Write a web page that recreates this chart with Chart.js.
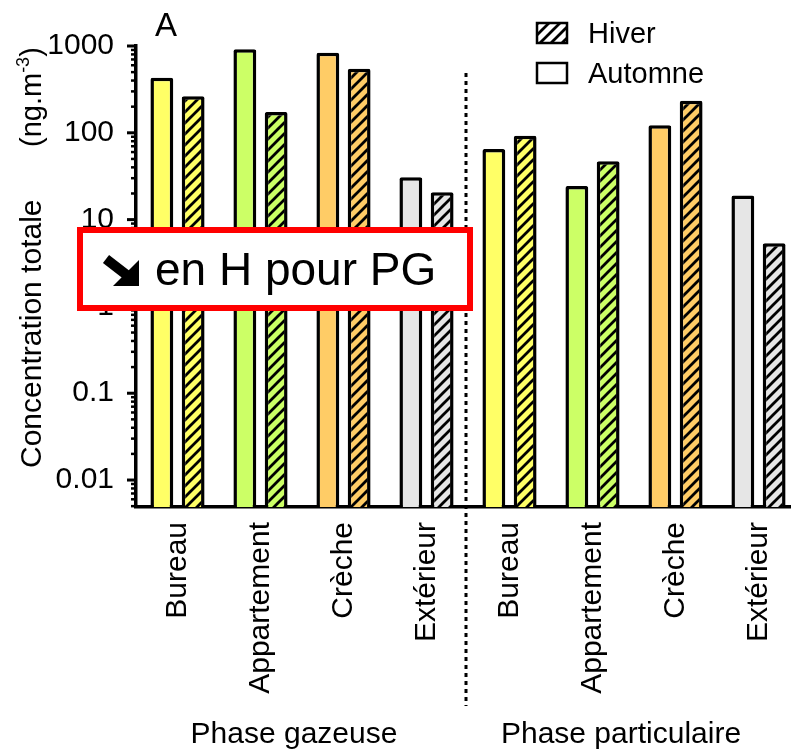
<!DOCTYPE html>
<html>
<head>
<meta charset="utf-8">
<script src="https://cdn.jsdelivr.net/npm/chart.js@4.4.1/dist/chart.umd.min.js"></script>
<style>
  html, body { margin: 0; padding: 0; background: #fff; overflow: hidden; }
  #wrap { width: 800px; height: 749px; }
</style>
</head>
<body>
<div id="wrap"><canvas id="c" width="800" height="749"></canvas></div>
<script>
// Sites and phases
const categories = ['Bureau', 'Appartement', 'Crèche', 'Extérieur'];
const phases = ['Phase gazeuse', 'Phase particulaire'];
const seasons = ['Hiver', 'Automne'];

// Total concentrations (ng.m-3)
const gasAutumn = [431, 916, 837, 30.7];
const gasWinter = [263, 174, 548, 20.6];
const particleAutumn = [65, 24.4, 122, 18.9];
const particleWinter = [92.7, 47, 234, 5.33];

// Labelled decades on the log axis
const yTickLabels = ['0.01', '0.1', '1', '10', '100', '1000'];

const siteColors = ['#FFFF66', '#CCFF66', '#FFCC66', '#E6E6E6'];
const panelLetter = 'A';
const yTitle = 'Concentration totale';
const yUnit = ['(ng.m', '-3', ')'];
const noteText = 'en H pour PG';

const FONT = '"Liberation Sans", Arial, Helvetica, sans-serif';

const labels = categories.concat(categories);
const autumnData = gasAutumn.concat(particleAutumn);
const winterData = gasWinter.concat(particleWinter);
const colors = siteColors.concat(siteColors);

// Diagonal hatching over a base colour
function hatch(color) {
  const s = 11;
  const c = document.createElement('canvas');
  c.width = s; c.height = s;
  const g = c.getContext('2d');
  g.fillStyle = color;
  g.fillRect(0, 0, s, s);
  g.strokeStyle = '#000';
  g.lineWidth = 2.8;
  g.beginPath();
  g.moveTo(-2, s + 2); g.lineTo(s + 2, -2);
  g.moveTo(-2, 2); g.lineTo(2, -2);
  g.moveTo(s - 2, s + 2); g.lineTo(s + 2, s - 2);
  g.stroke();
  return g.createPattern(c, 'repeat');
}

function tickLabel(v) {
  for (const t of yTickLabels) {
    if (Math.abs(Math.log10(v) - Math.log10(Number(t))) < 1e-6) return t;
  }
  return '';
}

const decor = {
  id: 'decor',
  afterDraw(chart) {
    const ctx = chart.ctx;
    const ys = chart.scales.y;
    const xs = chart.scales.x;
    const area = chart.chartArea;
    ctx.save();

    // major / minor tick marks of the log axis
    ctx.strokeStyle = '#000';
    for (let e = -3; e <= 3; e++) {
      for (let m = 1; m <= 9; m++) {
        const v = m * Math.pow(10, e);
        if (v < ys.min || v > ys.max * 1.0001) continue;
        const py = ys.getPixelForValue(v);
        const len = m === 1 ? 9 : 5;
        ctx.lineWidth = m === 1 ? 3 : 2.5;
        ctx.beginPath();
        ctx.moveTo(area.left - len, py);
        ctx.lineTo(area.left, py);
        ctx.stroke();
      }
    }

    // dotted separator between the two phases
    const sepX = (xs.getPixelForValue(3) + xs.getPixelForValue(4)) / 2 - 2;
    ctx.setLineDash([4, 4]);
    ctx.lineWidth = 3;
    ctx.beginPath();
    ctx.moveTo(sepX, 73);
    ctx.lineTo(sepX, 706);
    ctx.stroke();
    ctx.setLineDash([]);

    // phase labels
    ctx.fillStyle = '#000';
    ctx.font = '30px ' + FONT;
    ctx.textAlign = 'center';
    ctx.textBaseline = 'alphabetic';
    ctx.fillText(phases[0], 294, 743);
    ctx.fillText(phases[1], 621, 743);

    // panel letter
    ctx.textAlign = 'left';
    ctx.font = '33px ' + FONT;
    ctx.fillText(panelLetter, 155, 36);

    // legend
    const boxes = [{y: 23, pat: hatch('#FFFFFF')}, {y: 63, pat: '#FFFFFF'}];
    ctx.font = '29px ' + FONT;
    boxes.forEach((b, i) => {
      ctx.fillStyle = b.pat;
      ctx.fillRect(537, b.y, 30, 20);
      ctx.strokeStyle = '#000';
      ctx.lineWidth = 2.5;
      ctx.strokeRect(537, b.y, 30, 20);
      ctx.fillStyle = '#000';
      ctx.fillText(seasons[i], 588, b.y + 20);
    });

    // y axis title
    ctx.save();
    ctx.translate(41, 468);
    ctx.rotate(-Math.PI / 2);
    ctx.font = '30px ' + FONT;
    ctx.fillText(yTitle, 0, 0);
    ctx.restore();

    ctx.save();
    ctx.translate(41, 147);
    ctx.rotate(-Math.PI / 2);
    ctx.font = '29px ' + FONT;
    let w = ctx.measureText(yUnit[0]).width;
    ctx.fillText(yUnit[0], 0, 0);
    ctx.font = '18px ' + FONT;
    ctx.fillText(yUnit[1], w, -12);
    w += ctx.measureText(yUnit[1]).width;
    ctx.font = '29px ' + FONT;
    ctx.fillText(yUnit[2], w, 0);
    ctx.restore();

    // note box
    ctx.fillStyle = '#FFFFFF';
    ctx.fillRect(80, 230, 390, 78);
    ctx.strokeStyle = '#FF0000';
    ctx.lineWidth = 6;
    ctx.strokeRect(80, 230, 390, 78);

    // heavy south-east arrow
    ctx.fillStyle = '#000';
    ctx.beginPath();
    ctx.moveTo(139, 286);
    ctx.lineTo(139, 260);
    ctx.lineTo(113, 286);
    ctx.closePath();
    ctx.fill();
    ctx.strokeStyle = '#000';
    ctx.lineWidth = 10;
    ctx.beginPath();
    ctx.moveTo(106, 259);
    ctx.lineTo(128, 276);
    ctx.stroke();

    ctx.font = '46px ' + FONT;
    ctx.textAlign = 'left';
    ctx.fillText(noteText, 155, 285);

    ctx.restore();
  }
};

new Chart(document.getElementById('c'), {
  type: 'bar',
  data: {
    labels: labels,
    datasets: [
      {
        label: seasons[1],
        data: autumnData,
        backgroundColor: colors,
        borderColor: '#000',
        borderWidth: 3.5,
        borderRadius: {topLeft: 2, topRight: 2}
      },
      {
        label: seasons[0],
        data: winterData,
        backgroundColor: colors.map(hatch),
        borderColor: '#000',
        borderWidth: 3.5,
        borderRadius: {topLeft: 2, topRight: 2}
      }
    ]
  },
  options: {
    responsive: false,
    animation: false,
    devicePixelRatio: 1,
    barPercentage: 0.73,
    categoryPercentage: 0.754,
    layout: { padding: { top: 46, left: 0, right: 0, bottom: 0 } },
    plugins: {
      legend: { display: false },
      title: { display: false },
      tooltip: { enabled: false }
    },
    scales: {
      x: {
        type: 'category',
        offset: true,
        grid: { display: false, drawTicks: false },
        border: { display: true, color: '#000', width: 3.5 },
        ticks: {
          minRotation: 90, maxRotation: 90, autoSkip: false, padding: 15,
          color: '#000', font: { family: FONT, size: 30 }
        },
        afterFit(s) {
          s.height = 242;
          s.paddingLeft = 0;
          s.paddingRight = 0;
        }
      },
      y: {
        type: 'logarithmic',
        min: 0.00489,
        max: 1000,
        grid: { display: false, drawTicks: false },
        border: { display: true, color: '#000', width: 3.5 },
        ticks: {
          autoSkip: false, padding: 22, color: '#000',
          font: { family: FONT, size: 30 },
          callback: (v) => tickLabel(v)
        },
        afterFit(s) {
          s.width = 136;
          s.paddingTop = 0;
          s.paddingBottom = 0;
        }
      }
    }
  },
  plugins: [decor]
});
</script>
</body>
</html>
